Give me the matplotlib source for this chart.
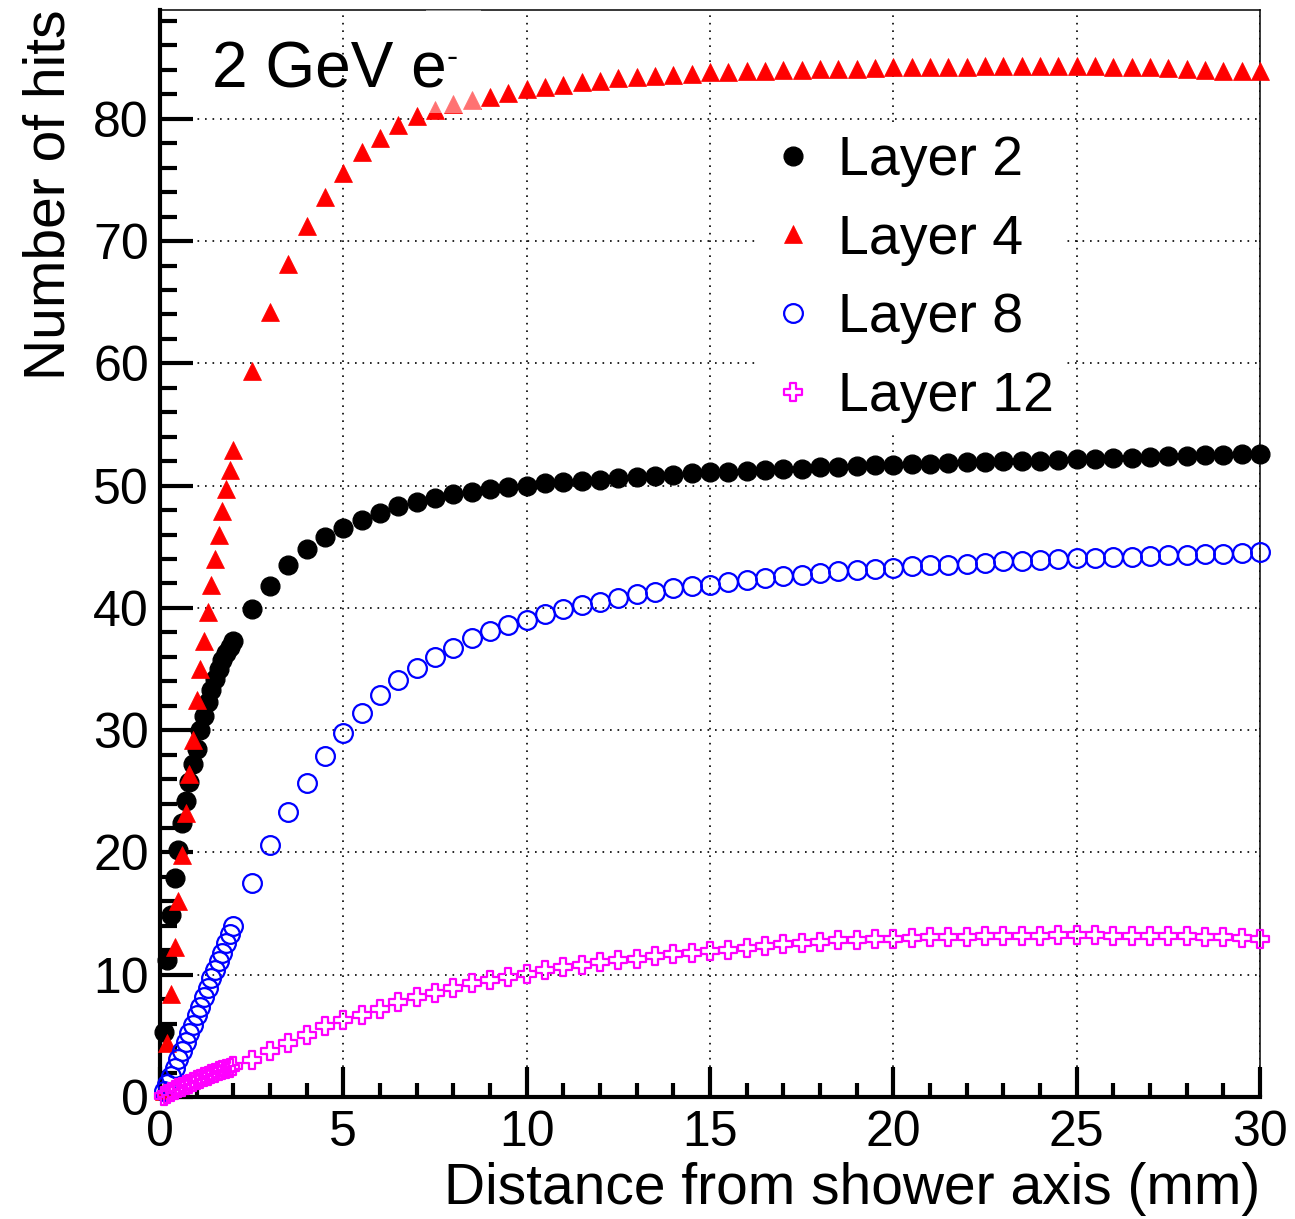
import matplotlib
matplotlib.use("Agg")
import matplotlib.pyplot as plt
from matplotlib.path import Path
from matplotlib.patches import Rectangle
from matplotlib.ticker import MultipleLocator

plt.rcParams["font.family"] = ["Liberation Sans", "DejaVu Sans"]

# distance from shower axis (mm): fine steps near the core, then 0.5 mm steps
dist_fine = [0.1, 0.2, 0.3, 0.4, 0.5, 0.6, 0.7, 0.8, 0.9, 1.0,
             1.1, 1.2, 1.3, 1.4, 1.5, 1.6, 1.7, 1.8, 1.9, 2.0]
dist_coarse = [2.5, 3.0, 3.5, 4.0, 4.5, 5.0, 5.5, 6.0, 6.5, 7.0, 7.5, 8.0, 8.5, 9.0, 9.5, 10.0,
               10.5, 11.0, 11.5, 12.0, 12.5, 13.0, 13.5, 14.0, 14.5, 15.0,
               15.5, 16.0, 16.5, 17.0, 17.5, 18.0, 18.5, 19.0, 19.5, 20.0,
               20.5, 21.0, 21.5, 22.0, 22.5, 23.0, 23.5, 24.0, 24.5, 25.0,
               25.5, 26.0, 26.5, 27.0, 27.5, 28.0, 28.5, 29.0, 29.5, 30.0]
distance = dist_fine + dist_coarse

layer2 = [5.3, 11.2, 14.9, 17.9, 20.2, 22.4, 24.2, 25.8, 27.2, 28.5,
          30.0, 31.2, 32.3, 33.3, 34.2, 35.0, 35.7, 36.3, 36.8, 37.3,
          39.9, 41.8, 43.5, 44.8, 45.8, 46.5, 47.2, 47.8, 48.3, 48.7, 49.0, 49.3, 49.5, 49.7, 49.9, 50.0,
          50.2, 50.3, 50.4, 50.5, 50.6, 50.7, 50.8, 50.9, 51.0, 51.1,
          51.15, 51.2, 51.3, 51.35, 51.4, 51.5, 51.55, 51.6, 51.65, 51.7,
          51.75, 51.8, 51.85, 51.9, 51.95, 52.0, 52.0, 52.05, 52.1, 52.15,
          52.2, 52.25, 52.3, 52.35, 52.4, 52.4, 52.5, 52.5, 52.55, 52.6]

layer4 = [0.5, 4.4, 8.4, 12.3, 16.0, 19.8, 23.2, 26.4, 29.2, 32.5,
          35.0, 37.3, 39.7, 41.9, 44.0, 46.0, 47.9, 49.7, 51.3, 52.9,
          59.4, 64.2, 68.1, 71.2, 73.6, 75.6, 77.3, 78.4, 79.5, 80.2, 80.7, 81.2, 81.5, 81.8, 82.1, 82.4,
          82.6, 82.8, 83.0, 83.1, 83.3, 83.4, 83.5, 83.6, 83.7, 83.8,
          83.8, 83.9, 83.95, 84.0, 84.0, 84.05, 84.1, 84.1, 84.15, 84.2,
          84.2, 84.2, 84.25, 84.25, 84.3, 84.3, 84.3, 84.3, 84.3, 84.3,
          84.3, 84.25, 84.25, 84.2, 84.15, 84.1, 84.0, 83.95, 83.9, 83.9]

layer8 = [0.5, 1.1, 1.7, 2.4, 3.1, 3.8, 4.5, 5.2, 5.9, 6.7,
          7.4, 8.2, 8.9, 9.7, 10.4, 11.1, 11.8, 12.6, 13.3, 14.0,
          17.5, 20.6, 23.3, 25.7, 27.9, 29.8, 31.4, 32.9, 34.1, 35.1, 36.0, 36.75, 37.5, 38.1, 38.6, 39.0,
          39.5, 39.9, 40.2, 40.5, 40.8, 41.1, 41.3, 41.6, 41.8, 41.9,
          42.15, 42.3, 42.45, 42.6, 42.7, 42.85, 43.0, 43.1, 43.2, 43.3,
          43.4, 43.5, 43.55, 43.6, 43.7, 43.8, 43.85, 43.95, 44.0, 44.05,
          44.1, 44.15, 44.2, 44.25, 44.3, 44.35, 44.4, 44.45, 44.5, 44.55]

layer12 = [0.1, 0.25, 0.4, 0.55, 0.7, 0.8, 0.95, 1.1, 1.2, 1.35,
           1.5, 1.6, 1.75, 1.85, 2.0, 2.1, 2.2, 2.3, 2.4, 2.5,
           3.06, 3.77, 4.4, 5.1, 5.8, 6.3, 6.7, 7.2, 7.8, 8.2, 8.5, 8.95, 9.3, 9.55, 9.8, 10.1,
           10.4, 10.6, 10.8, 11.05, 11.2, 11.3, 11.5, 11.7, 11.8, 11.9,
           12.06, 12.2, 12.35, 12.5, 12.6, 12.7, 12.8, 12.85, 12.9, 12.95,
           13.0, 13.05, 13.1, 13.1, 13.15, 13.2, 13.2, 13.2, 13.25, 13.25,
           13.25, 13.2, 13.2, 13.2, 13.2, 13.15, 13.1, 13.1, 13.0, 12.9]

x_ticks = [0, 5, 10, 15, 20, 25, 30]
y_ticks = [0, 10, 20, 30, 40, 50, 60, 70, 80]

# open cross marker (ROOT style 28)
a = 0.36
cross_verts = [(-a, 1), (a, 1), (a, a), (1, a), (1, -a), (a, -a), (a, -1),
               (-a, -1), (-a, -a), (-1, -a), (-1, a), (-a, a), (-a, 1)]
open_cross = Path(cross_verts, [Path.MOVETO] + [Path.LINETO] * 11 + [Path.CLOSEPOLY])

W, H = 1295, 1219
fig = plt.figure(figsize=(W / 100, H / 100), dpi=100)
ax = fig.add_axes([160 / W, 1 - 1097 / H, 1100 / W, 1087 / H])

ax.plot(distance, layer2, ls="none", marker="o", ms=13.5, mfc="black", mec="black",
        clip_on=False, zorder=3, label="Layer 2")
ax.plot(distance, layer4, ls="none", marker="^", ms=13.5, mfc="red", mec="red", mew=0.5,
        clip_on=False, zorder=3, label="Layer 4")
ax.plot(distance, layer8, ls="none", marker="o", ms=13.5, mfc="none", mec="blue", mew=1.6,
        clip_on=False, zorder=3, label="Layer 8")
ax.plot(distance, layer12, ls="none", marker=open_cross, ms=13.5, mfc="none", mec="magenta", mew=1.6,
        clip_on=False, zorder=3, label="Layer 12")

ax.set_xlim(0, 30)
ax.set_ylim(0, 88.9)
ax.set_xticks(x_ticks)
ax.set_yticks(y_ticks)
ax.xaxis.set_minor_locator(MultipleLocator(1))
ax.yaxis.set_minor_locator(MultipleLocator(2))

ax.grid(True, which="major", color="black", ls=(0, (1, 3.5)), lw=1.2, zorder=1)
ax.set_axisbelow(True)

for side in ["left", "bottom"]:
    ax.spines[side].set_linewidth(3)
for side in ["top", "right"]:
    ax.spines[side].set_linewidth(1.1)

ax.tick_params(which="both", direction="in", top=False, right=False, width=3,
               labelsize=36)
ax.tick_params(axis="x", which="major", length=21.5, pad=9)
ax.tick_params(axis="x", which="minor", length=10)
ax.tick_params(axis="y", which="major", length=24, pad=8)
ax.tick_params(axis="y", which="minor", length=12.5)

ax.set_xlabel("Distance from shower axis (mm)", fontsize=41, loc="right", labelpad=5)
ax.set_ylabel("Number of hits", fontsize=41, loc="top", labelpad=12)

ax.text(52 / 1100, (1096.7 - 87) / 1086.7, "2 GeV e", transform=ax.transAxes,
        fontsize=46, ha="left", va="baseline", zorder=6)
ax.text((446 - 160) / 1100, (1096.7 - 67) / 1086.7, "-", transform=ax.transAxes,
        fontsize=24, ha="left", va="baseline", zorder=6)

# faint white patch seen over a few triangles near the label
ax.add_patch(Rectangle(((426 - 160) / 1100, (1096.7 - 113) / 1086.7), 55 / 1100, 103 / 1086.7,
                       transform=ax.transAxes, facecolor="white", edgecolor="none",
                       alpha=0.45, zorder=4))

leg = ax.legend(loc="center left", bbox_to_anchor=(0.5455, 0.7525), borderaxespad=0,
                fontsize=40, frameon=True, fancybox=False, framealpha=1, edgecolor="none",
                facecolor="white", handlelength=0.8, handletextpad=0.4, borderpad=0.2,
                labelspacing=0.48, markerscale=1.0)
leg.set_zorder(5)

fig.savefig("out.png", dpi=100)
